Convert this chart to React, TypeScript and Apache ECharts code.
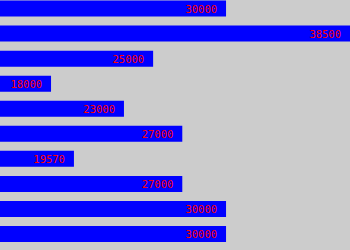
import React, { useEffect, useRef } from "react";
import * as echarts from "echarts";

const categories = ["1", "2", "3", "4", "5", "6", "7", "8", "9", "10"];
const values = [30000, 38500, 25000, 18000, 23000, 27000, 19570, 27000, 30000, 30000];
const axisMin = 14500;
const axisMax = 38500;

export default function App() {
  const ref = useRef<HTMLDivElement>(null);
  useEffect(() => {
    document.body.style.margin = "0";
    document.body.style.overflow = "hidden";
    const chart = echarts.init(ref.current!, null, { renderer: "svg" });
    chart.setOption({
      animation: false,
      backgroundColor: "#cccccc",
      grid: { left: 0, right: 0, top: 0, bottom: 4.5, containLabel: false },
      xAxis: {
        type: "value",
        min: axisMin,
        max: axisMax,
        show: false,
      },
      yAxis: {
        type: "category",
        data: categories,
        inverse: true,
        show: false,
      },
      series: [
        {
          type: "bar",
          data: values,
          barWidth: 16,
          itemStyle: { color: "#0000ff" },
          label: {
            show: true,
            position: "insideRight",
            distance: 9,
            color: "#ff0000",
            fontFamily: "DejaVu Sans Mono",
            fontSize: 10.5,
          },
        },
      ],
    });
    return () => chart.dispose();
  }, []);
  return <div ref={ref} style={{ width: 350, height: 254.5, marginTop: -4.5 }} />;
}
